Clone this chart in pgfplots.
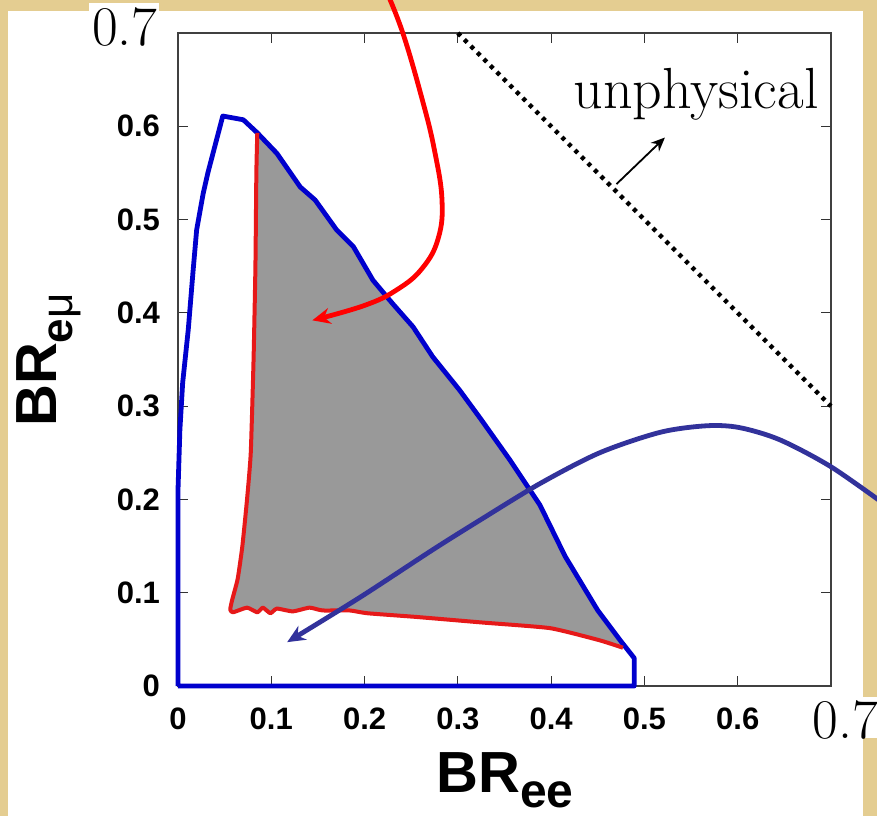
\documentclass[border=0pt]{standalone}
\usepackage{fontspec}
\usepackage{pgfplots}
\pgfplotsset{compat=1.18}
\usetikzlibrary{arrows.meta}
\newfontfamily\arialf{Liberation Sans}
\definecolor{parch}{RGB}{228,205,145}
\definecolor{fillgray}{RGB}{153,153,153}
\definecolor{bndblue}{RGB}{0,0,205}
\definecolor{bndred}{RGB}{230,25,25}
\definecolor{arrblue}{RGB}{50,50,155}

\begin{document}
\begin{tikzpicture}
% 1 px of the reference = 0.5pt, origin at the lower-left axis corner
\clip (-89pt,-65pt) rectangle (349.5pt,343pt);
\fill[parch] (-89pt,-65pt) rectangle (349.5pt,343pt);
\fill[white] (-85pt,-65pt) rectangle (342.5pt,337.5pt);
\fill[white] (-44.5pt,320.5pt) rectangle (-9.5pt,341.5pt);
\fill[white] (316pt,-26pt) rectangle (349.5pt,-5.5pt);

\begin{axis}[
  at={(0,0)}, anchor=south west,
  scale only axis, width=326.5pt, height=326.5pt,
  xmin=0, xmax=0.7, ymin=0, ymax=0.7,
  xtick={0,0.1,0.2,0.3,0.4,0.5,0.6,0.7},
  ytick={0,0.1,0.2,0.3,0.4,0.5,0.6,0.7},
  xticklabels={0,0.1,0.2,0.3,0.4,0.5,0.6,{}},
  yticklabels={0,0.1,0.2,0.3,0.4,0.5,0.6,{}},
  tick align=inside, major tick length=5pt,
  axis line style={black!75, line width=0.8pt},
  tick style={black!80, line width=0.6pt},
  ticklabel style={font=\arialf\bfseries\fontsize{15.5}{15.5}\selectfont},
  xticklabel style={yshift=-7.5pt},
  yticklabel style={xshift=-5.5pt},
  clip=false,
]
% allowed region (grey)
\addplot[fill=fillgray, draw=none] coordinates {
  (0.085,0.593) (0.084,0.55) (0.083,0.45) (0.081,0.35) (0.078,0.25)
  (0.074,0.20) (0.069,0.15) (0.064,0.115) (0.058,0.092) (0.056,0.082) (0.059,0.079)
  (0.074,0.084) (0.085,0.079) (0.091,0.084) (0.099,0.078) (0.106,0.083)
  (0.123,0.080) (0.141,0.084) (0.155,0.081) (0.184,0.081) (0.203,0.078)
  (0.256,0.074) (0.327,0.068) (0.399,0.062) (0.452,0.049) (0.477,0.041)
  (0.474,0.049) (0.450,0.081) (0.415,0.139) (0.388,0.194) (0.356,0.242)
  (0.324,0.287) (0.302,0.317) (0.273,0.353) (0.252,0.385) (0.230,0.410)
  (0.209,0.435) (0.188,0.471) (0.170,0.489) (0.147,0.521) (0.131,0.535)
  (0.106,0.571) (0.085,0.593)
} -- cycle;
% outer boundary (blue)
\addplot[bndblue, line width=2.4pt, line join=round] coordinates {
  (0,0) (0.489,0) (0.489,0.030) (0.474,0.049) (0.450,0.081) (0.415,0.139)
  (0.388,0.194) (0.356,0.242) (0.324,0.287) (0.302,0.317) (0.273,0.353)
  (0.252,0.385) (0.230,0.410) (0.209,0.435) (0.188,0.471) (0.170,0.489)
  (0.147,0.521) (0.131,0.535) (0.106,0.571) (0.085,0.593) (0.070,0.607)
  (0.048,0.611) (0.032,0.550) (0.027,0.528) (0.020,0.489) (0.016,0.443)
  (0.011,0.382) (0.005,0.325) (0.002,0.274) (0,0.210) (0,0)
};
% inner boundary (red)
\addplot[bndred, line width=2pt, line join=round, smooth, tension=0.3] coordinates {
  (0.085,0.593) (0.084,0.55) (0.083,0.45) (0.081,0.35) (0.078,0.25)
  (0.074,0.20) (0.069,0.15) (0.064,0.115) (0.058,0.092) (0.056,0.082) (0.059,0.079)
  (0.074,0.084) (0.085,0.079) (0.091,0.084) (0.099,0.078) (0.106,0.083)
  (0.123,0.080) (0.141,0.084) (0.155,0.081) (0.184,0.081) (0.203,0.078)
  (0.256,0.074) (0.327,0.068) (0.399,0.062) (0.452,0.049) (0.477,0.041)
};
% physical limit BR_ee + BR_emu = 1
\addplot[black, line width=2.2pt, dash pattern=on 2pt off 2.6pt] coordinates {
  (0.3,0.7) (0.7,0.3)
};
\addplot[black, line width=0.9pt, -{Stealth[length=7pt,width=6pt]}] coordinates {
  (0.470,0.538) (0.522,0.588)
};
% annotation arrows
\addplot[red, line width=2.4pt, smooth, tension=0.7, -{Stealth[length=9pt,width=8pt]}] coordinates {
  (0.222,0.748) (0.241,0.700) (0.262,0.628) (0.275,0.574) (0.283,0.521)
  (0.279,0.480) (0.262,0.448) (0.235,0.425) (0.200,0.408)
  (0.144,0.392)
};
\addplot[arrblue, line width=2.4pt, smooth, tension=0.5, -{Stealth[length=9pt,width=8pt]}] coordinates {
  (0.760,0.193) (0.700,0.235) (0.645,0.264) (0.602,0.277) (0.567,0.279)
  (0.517,0.272) (0.452,0.250) (0.388,0.217) (0.324,0.178) (0.273,0.146)
  (0.195,0.095) (0.117,0.047)
};
\end{axis}

\node[anchor=base, font=\fontsize{29}{30}\selectfont, inner sep=0pt] at (259pt,289pt) {unphysical};
\node[anchor=base, font=\fontsize{28}{30}\selectfont, inner sep=0pt] at (-26.5pt,320.5pt) {0.7};
\node[anchor=base west, font=\fontsize{28}{30}\selectfont, inner sep=0pt] at (317pt,-26pt) {0.7};
\node[anchor=base, inner sep=0pt] at (163.5pt,-53pt)
  {\arialf\bfseries\fontsize{29}{30}\selectfont BR\raisebox{-7.5pt}{\fontsize{24}{24}\selectfont ee}};
\node[anchor=base, rotate=90, inner sep=0pt] at (-60.5pt,163pt)
  {\arialf\bfseries\fontsize{29}{30}\selectfont BR\raisebox{-8pt}{\fontsize{22}{22}\selectfont e\mdseries μ}};
\end{tikzpicture}
\end{document}
